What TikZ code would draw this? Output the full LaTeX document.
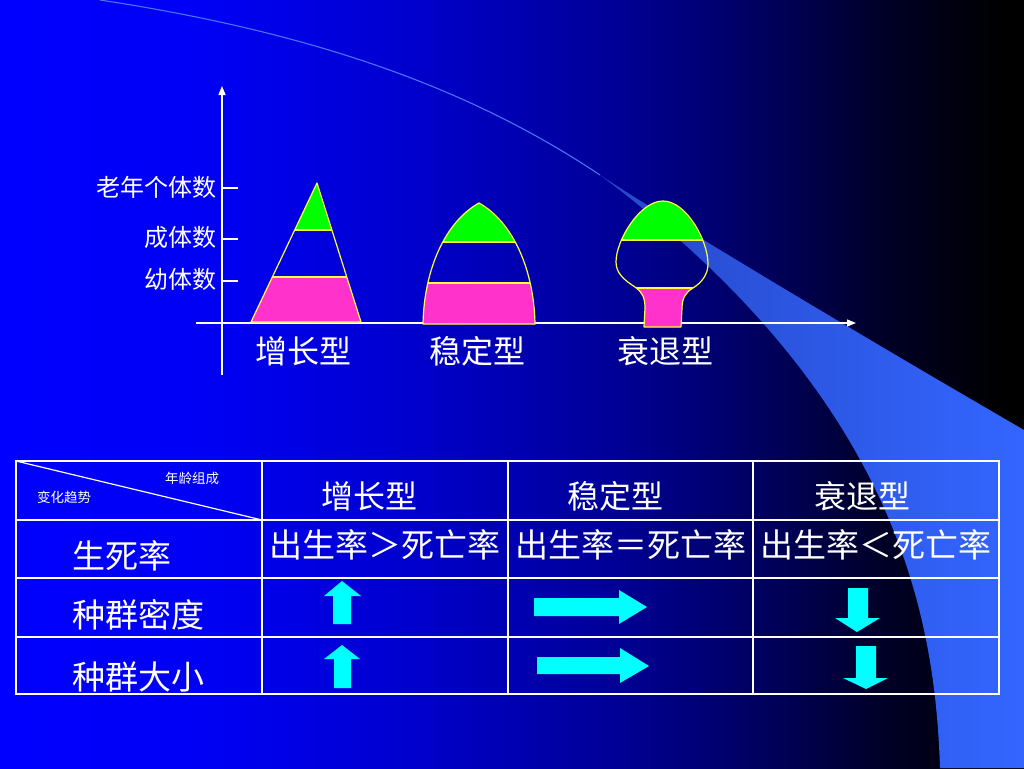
\documentclass[tikz,border=0pt]{standalone}
\usepackage{fontspec}
\newfontfamily\cjk{Noto Sans CJK SC}
\usetikzlibrary{arrows.meta}
\definecolor{bgA}{RGB}{0,0,255}
\definecolor{bgB}{RGB}{0,0,245}
\definecolor{bgC}{RGB}{0,0,205}
\definecolor{bgD}{RGB}{0,0,150}
\definecolor{bgE}{RGB}{0,0,88}
\definecolor{bgF}{RGB}{0,0,40}
\definecolor{swA}{RGB}{38,72,200}
\definecolor{swB}{RGB}{51,102,255}
\definecolor{swL}{RGB}{75,115,250}
\definecolor{pinkP}{RGB}{255,51,204}
\definecolor{greenP}{RGB}{0,255,0}
\definecolor{yellowE}{RGB}{255,255,60}
\definecolor{cyanA}{RGB}{0,255,255}
\pgfdeclarehorizontalshading{bgshade}{100bp}{color(0bp)=(bgA); color(25bp)=(bgA); color(35bp)=(bgB); color(45bp)=(bgC); color(55bp)=(bgD); color(63bp)=(bgE); color(68bp)=(bgF); color(74bp)=(black); color(100bp)=(black)}
\tikzset{
  axisline/.style={draw=white, line width=1.4pt},
  tickline/.style={draw=white, line width=1.2pt},
  outline/.style={draw=yellowE, line width=1.2pt, line join=round},
  bandline/.style={draw=yellowE, line width=1.2pt},
  lab/.style={text=white, inner sep=0pt, font=\cjk\fontsize{24}{24}\selectfont},
  big/.style={text=white, inner sep=0pt, font=\cjk\fontsize{32}{32}\selectfont},
  cell/.style={text=white, inner sep=0pt, font=\cjk\fontsize{33}{33}\selectfont},
  tiny/.style={text=white, inner sep=0pt, font=\cjk\fontsize{13.5}{13.5}\selectfont},
  tblthick/.style={draw=white, line width=2.2pt},
  tblthin/.style={draw=white, line width=1.2pt},
  arrowfill/.style={fill=cyanA},
  swline/.style={draw=swL, line width=1.1pt}
}
\begin{document}
\begin{tikzpicture}[x=1pt,y=-1pt]
\useasboundingbox (0,0) rectangle (1024,768);
% background
\shade[shading=bgshade] (0,0) rectangle (1024,768);
% swoosh
\shade[left color=swA, right color=swB]
  (600,175) .. controls (650,208) and (800,300) .. (1024,430) -- (1024,768) -- (940,768)
  .. controls (935,620) and (900,400) .. (600,175) -- cycle;
\draw[swline] (100,0) .. controls (330,35) and (480,95) .. (600,175);

% axes
\coordinate (yb) at (222,375);
\coordinate (yt) at (222,86);
\coordinate (xl) at (196,323);
\coordinate (xr) at (856,323);
\draw[axisline, -{Triangle[length=9pt,width=7pt]}] (yb) -- (yt);
\draw[axisline, -{Triangle[length=9pt,width=7pt]}] (xl) -- (xr);
% ticks
\coordinate (t1a) at (222,188); \coordinate (t1b) at (238,188);
\coordinate (t2a) at (222,239); \coordinate (t2b) at (238,239);
\coordinate (t3a) at (222,281); \coordinate (t3b) at (238,281);
\draw[tickline] (t1a) -- (t1b);
\draw[tickline] (t2a) -- (t2b);
\draw[tickline] (t3a) -- (t3b);
\node[lab, anchor=east] (lold) at (217,187) {老年个体数};
\node[lab, anchor=east] (ladult) at (217,237) {成体数};
\node[lab, anchor=east] (lyoung) at (217,279) {幼体数};

% shape 1: growth
\begin{scope}
\clip (251,322) -- (317,183) -- (361,322) -- cycle;
\fill[pinkP] (200,277) rectangle (400,330);
\fill[greenP] (200,170) rectangle (400,230);
\draw[bandline] (200,277) -- (400,277);
\draw[bandline] (200,230) -- (400,230);
\end{scope}
\draw[outline] (251,322) -- (317,183) -- (361,322) -- cycle;

% shape 2: stable
\begin{scope}
\clip (423,324) .. controls (424,270) and (445,222) .. (479,203) .. controls (513,222) and (534,270) .. (535,324) -- cycle;
\fill[pinkP] (400,283) rectangle (560,330);
\fill[greenP] (400,190) rectangle (560,242);
\draw[bandline] (400,283) -- (560,283);
\draw[bandline] (400,242) -- (560,242);
\end{scope}
\draw[outline] (423,324) .. controls (424,270) and (445,222) .. (479,203) .. controls (513,222) and (534,270) .. (535,324) -- cycle;

% shape 3: declining
\begin{scope}
\clip (644,327) -- (645,308) .. controls (645,297) and (642,292) .. (635,287) .. controls (624,280) and (616,273) .. (616,262) .. controls (616,240) and (640,201) .. (663,201) .. controls (686,201) and (708,240) .. (708,264) .. controls (708,275) and (701,283) .. (693,288) .. controls (686,292) and (682,298) .. (682,308) -- (681,327) -- cycle;
\fill[pinkP] (600,288) rectangle (720,335);
\fill[greenP] (600,190) rectangle (720,240);
\draw[bandline] (600,288) -- (720,288);
\draw[bandline] (600,240) -- (720,240);
\end{scope}
\draw[outline] (644,327) -- (645,308) .. controls (645,297) and (642,292) .. (635,287) .. controls (624,280) and (616,273) .. (616,262) .. controls (616,240) and (640,201) .. (663,201) .. controls (686,201) and (708,240) .. (708,264) .. controls (708,275) and (701,283) .. (693,288) .. controls (686,292) and (682,298) .. (682,308) -- (681,327) -- cycle;

\node[big] (ng) at (303,351) {增长型};
\node[big] (ns) at (477,351) {稳定型};
\node[big] (nd) at (665,351) {衰退型};

% table
\draw[tblthin] (16,461) -- (262,520);
\draw[tblthin] (262,461) -- (262,694);
\draw[tblthin] (753,461) -- (753,694);
\draw[tblthin] (16,520) -- (999,520);
\draw[tblthin] (16,578) -- (999,578);
\draw[tblthin] (16,637) -- (999,637);
\draw[tblthick] (508,461) -- (508,694);
\draw[tblthick] (16,461) rectangle (999,694);

\node[tiny] (hage) at (192,478) {年龄组成};
\node[tiny] (htrend) at (64,497) {变化趋势};
\node[big] (cg) at (369,496) {增长型};
\node[big] (cs) at (615,496) {稳定型};
\node[big] (cd) at (862,496) {衰退型};
\node[cell] (rg) at (385,545) {出生率＞死亡率};
\node[cell] (rs) at (631,545) {出生率＝死亡率};
\node[cell] (rd) at (876,545) {出生率＜死亡率};
\node[cell, anchor=west] (r1) at (72,556) {生死率};
\node[cell, anchor=west] (r2) at (72,615) {种群密度};
\node[cell, anchor=west] (r3) at (72,677) {种群大小};

% arrows
\fill[arrowfill] (342,581) -- (361,596) -- (351,596) -- (351,624) -- (333,624) -- (333,596) -- (324,596) -- cycle;
\fill[arrowfill] (342,645) -- (360,659) -- (351,659) -- (351,688) -- (334,688) -- (334,659) -- (324,659) -- cycle;
\fill[arrowfill] (534,598) -- (619,598) -- (619,590) -- (647,607) -- (619,624) -- (619,616) -- (534,616) -- cycle;
\fill[arrowfill] (537,657) -- (620,657) -- (620,648) -- (649,666) -- (620,683) -- (620,674) -- (537,674) -- cycle;
\fill[arrowfill] (848,588) -- (868,588) -- (868,618) -- (880,618) -- (857,632) -- (835,618) -- (848,618) -- cycle;
\fill[arrowfill] (856,646) -- (876,646) -- (876,678) -- (888,678) -- (866,689) -- (843,678) -- (856,678) -- cycle;
\end{tikzpicture}
\end{document}
